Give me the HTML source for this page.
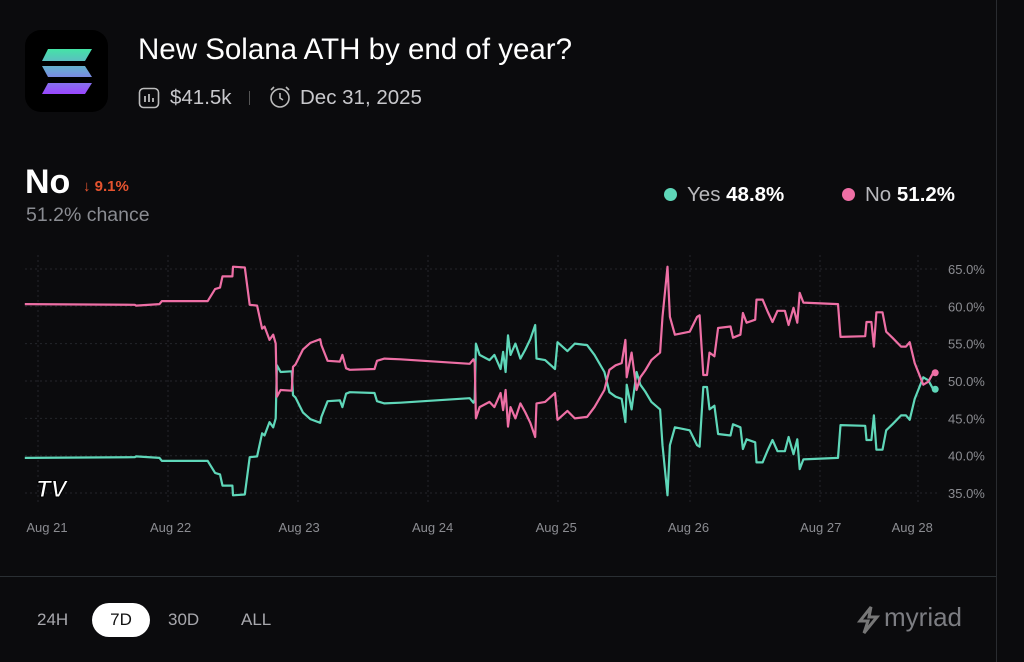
<!DOCTYPE html>
<html><head><meta charset="utf-8">
<style>
html,body{margin:0;padding:0;background:#0b0b0d;}
body{width:1024px;height:662px;overflow:hidden;position:relative;font-family:"Liberation Sans",sans-serif;}
.t{position:absolute;white-space:nowrap;}
</style></head>
<body>
<div style="position:absolute;left:996px;top:0;width:1px;height:662px;background:#2a2c30"></div>
<div style="position:absolute;left:0;top:576px;width:996px;height:1px;background:#2a2f33"></div>

<div style="position:absolute;left:25px;top:30px;width:83px;height:82px;border-radius:16px;background:#000">
<svg width="83" height="82" viewBox="0 0 83 82">
<defs><linearGradient id="sg" x1="0" y1="19" x2="0" y2="64" gradientUnits="userSpaceOnUse"><stop offset="0" stop-color="#44e4a6"/><stop offset="0.5" stop-color="#6f9fd8"/><stop offset="1" stop-color="#9a45ff"/></linearGradient></defs>
<polygon points="23,19 67,19 60,31 17,31" fill="url(#sg)"/>
<polygon points="17,36 60,36 67,47 23,47" fill="url(#sg)"/>
<polygon points="23,53 67,53 60,64 17,64" fill="url(#sg)"/>
</svg></div>
<div class="t" style="left:138px;top:33px;font-size:29.5px;color:#fff;">New Solana ATH by end of year?</div>
<svg style="position:absolute;left:138px;top:87px" width="22" height="22"><rect x="1.5" y="1.5" width="19" height="19" rx="4" fill="none" stroke="#bbb" stroke-width="1.6"/><path d="M7 15V9M11 15V7M15 15V11" stroke="#bbb" stroke-width="1.8"/></svg>
<div class="t" style="left:170px;top:86px;font-size:20.5px;color:#c8c8cc;">$41.5k</div>
<div style="position:absolute;left:249px;top:91px;width:1px;height:14px;background:#555"></div>
<svg style="position:absolute;left:268px;top:85px" width="24" height="24"><circle cx="12" cy="13" r="9" fill="none" stroke="#bbb" stroke-width="1.6"/><path d="M12 8v5l3 2M3 5l3-3M21 5l-3-3" stroke="#bbb" stroke-width="1.6" fill="none"/></svg>
<div class="t" style="left:300px;top:86px;font-size:20.5px;color:#c8c8cc;">Dec 31, 2025</div>

<div class="t" style="left:25px;top:163px;font-size:34px;font-weight:bold;color:#fff;">No</div>
<div class="t" style="left:83px;top:178px;font-size:15px;font-weight:bold;color:#e5532f;">↓ 9.1%</div>
<div class="t" style="left:26px;top:204px;font-size:19.5px;color:#8a8c92;">51.2% chance</div>

<div class="t" style="left:664px;top:183px;font-size:20.5px;color:#b8b8bc;"><span style="display:inline-block;width:13px;height:13px;border-radius:50%;background:#5fd7b9;margin-right:10px;vertical-align:0px"></span>Yes <b style="color:#fff">48.8%</b></div>
<div class="t" style="left:842px;top:183px;font-size:20.5px;color:#b8b8bc;"><span style="display:inline-block;width:13px;height:13px;border-radius:50%;background:#ee6fa5;margin-right:10px;vertical-align:0px"></span>No <b style="color:#fff">51.2%</b></div>

<svg id="chart" style="position:absolute;left:0;top:0" width="1024" height="662"></svg>

<div class="t" style="left:37px;top:610px;font-size:17px;color:#a8a8ad;">24H</div>
<div class="t" style="left:92px;top:603px;width:58px;height:34px;border-radius:17px;background:#fff;color:#111;font-size:17px;text-align:center;line-height:34px;">7D</div>
<div class="t" style="left:168px;top:610px;font-size:17px;color:#a8a8ad;">30D</div>
<div class="t" style="left:241px;top:610px;font-size:17px;color:#a8a8ad;">ALL</div>
<svg style="position:absolute;left:857px;top:606px" width="24" height="28"><path d="M14 1L3 15h8l-4 12 13-16h-8z" fill="none" stroke="#777" stroke-width="3"/></svg>
<div class="t" style="left:884px;top:602px;font-size:26px;color:#7c7d82;">myriad</div>

<script>
const tickDays=[0,1.0,2.04,3.12,4.12,5.19,6.26,7.0];
const tickLabels=["Aug 21","Aug 22","Aug 23","Aug 24","Aug 25","Aug 26","Aug 27","Aug 28"];
const yTicks=[35,40,45,50,55,60,65];
const times=[-0.18,0.71,0.72,0.91,0.93,1.30,1.36,1.40,1.42,1.50,1.505,1.60,1.64,1.70,1.74,1.76,1.80,1.83,1.85,1.86,1.89,1.98,1.99,2.01,2.07,2.13,2.21,2.22,2.27,2.37,2.39,2.42,2.45,2.65,2.67,2.73,2.86,3.42,3.45,3.46,3.47,3.50,3.58,3.62,3.67,3.69,3.71,3.73,3.75,3.79,3.83,3.87,3.91,3.95,3.96,4.03,4.11,4.13,4.21,4.27,4.37,4.43,4.51,4.55,4.60,4.65,4.68,4.69,4.73,4.77,4.80,4.84,4.89,4.96,4.98,5.02,5.04,5.08,5.20,5.26,5.28,5.31,5.34,5.36,5.40,5.43,5.53,5.55,5.61,5.63,5.66,5.73,5.74,5.79,5.83,5.87,5.91,5.97,6.00,6.04,6.07,6.09,6.12,6.40,6.42,6.62,6.63,6.67,6.69,6.71,6.76,6.79,6.84,6.91,6.95,6.98,7.02,7.09,7.13,7.17];
const noValues=[60.3,60.2,60.1,60.3,60.7,60.7,62.3,62.5,64,64,65.3,65.2,60.2,60.1,57,57.3,55.5,56.2,55,47.9,48.8,48.7,51.9,52.2,54.2,55.1,55.6,54.8,52.7,52.6,53.5,51.7,51.5,51.6,52.7,53,52.9,52.3,52.9,52.5,45,46.5,47.2,46.5,48.4,46.1,48.8,43.9,46.5,45,47,45.8,44.4,42.5,47,47.2,48.4,44.8,46,45,45.2,46.5,48.8,51.5,52.1,52.4,55.5,50.5,53.8,48.8,50.5,51.4,52.8,53.8,58.6,65.3,58.6,56.2,56.6,58.6,58.8,50.8,50.8,53.8,53.3,57.1,57.3,55.8,56.2,59.1,57.8,58.2,60.9,60.9,59.3,57.9,59.4,59.4,57.5,59.8,57.8,61.8,60.5,60.3,55.9,56,57.9,57.9,54.6,59.2,59.2,56.6,55.8,54.6,54.6,55.2,52.4,49.5,49.9,51.1];
const yesValues=noValues.map(v=>+(100-v).toFixed(1));

const svg=document.getElementById('chart');
const NS='http://www.w3.org/2000/svg';
const X=d=>47+d*123.6;
const Y=v=>381-(v-50)*7.47;
function mk(tag,attrs){const e=document.createElementNS(NS,tag);for(const k in attrs)e.setAttribute(k,attrs[k]);svg.appendChild(e);return e;}
yTicks.forEach(v=>{
  const g=mk('line',{x1:25,x2:938,y1:Y(v),y2:Y(v),stroke:'#24262b','stroke-dasharray':'2,3'});
  
  
  const t=mk('text',{x:948,y:Y(v)+5,fill:'#8b8c91','font-size':13,'font-family':'Liberation Sans, sans-serif'});
  t.textContent=v.toFixed(1)+'%';
  
  
});
[38,168,298,428,558,690,820,918].forEach(x=>{
  const g=mk('line',{x1:x,x2:x,y1:255,y2:505,stroke:'#24262b','stroke-dasharray':'2,3'});
  
  
});
tickDays.forEach((d,i)=>{
  const t=mk('text',{x:X(d),y:532,fill:'#8b8c91','font-size':13,'text-anchor':'middle','font-family':'Liberation Sans, sans-serif'});
  t.textContent=tickLabels[i];
  
  
});
function line(vals,color,name){
  const d=times.map((t,i)=>(i?'L':'M')+X(t).toFixed(1)+','+Y(vals[i]).toFixed(1)).join('');
  const p=mk('path',{d:d,fill:'none',stroke:color,'stroke-width':2.2,'stroke-linejoin':'round'});
  
  
  const n=times.length-1;
  const c=mk('circle',{cx:X(times[n])+2,cy:Y(vals[n]),r:3.5,fill:color});
  
  
}
line(yesValues,'#5fd7b9','yes-series-line');
line(noValues,'#ee6fa5','no-series-line');
const logo=mk('text',{x:36,y:497,fill:'#fff',stroke:'#000','stroke-width':1,'font-size':24,'font-weight':'bold','font-style':'italic','font-family':'Liberation Sans, sans-serif'});
logo.textContent='TV';


</script>
</body></html>
